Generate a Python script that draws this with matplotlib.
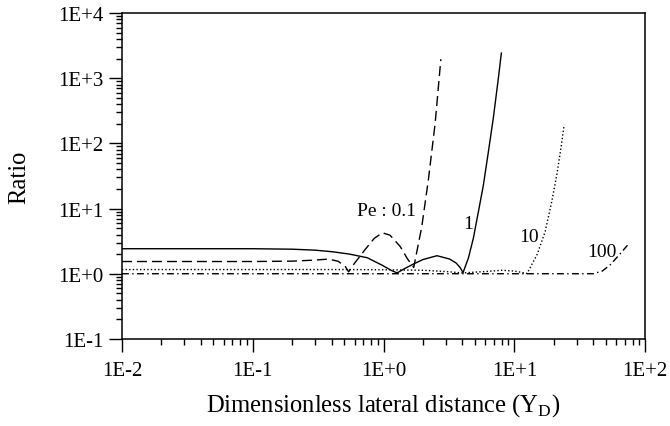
import numpy as np
import matplotlib
matplotlib.use("Agg")
import matplotlib.pyplot as plt
from matplotlib.ticker import LogLocator, FuncFormatter, NullFormatter

plt.rcParams['font.family'] = ['Liberation Serif', 'DejaVu Serif']
plt.rcParams['mathtext.fontset'] = 'custom'
plt.rcParams['mathtext.rm'] = 'Liberation Serif'
plt.rcParams['lines.scale_dashes'] = False

# Pe = 0.1 (dashed)
x_pe01 = [0.01, 0.1, 0.2, 0.3, 0.38, 0.45, 0.51, 0.54, 0.6, 0.72, 0.85, 0.98,
          1.12, 1.34, 1.52, 1.7, 1.82, 1.96, 2.2, 2.48, 2.74]
y_pe01 = [1.54, 1.54, 1.56, 1.62, 1.68, 1.55, 1.29, 1.07, 1.45, 2.33, 3.5, 4.25,
          3.9, 2.62, 1.7, 1.25, 2.5, 5.3, 27.7, 205, 1960]

# Pe = 1 (solid)
x_pe1 = [0.01, 0.1, 0.2, 0.3, 0.41, 0.55, 0.75, 0.99, 1.15, 1.27, 1.45, 1.68,
         2.0, 2.56, 3.2, 3.6, 3.85, 4.05, 4.45, 4.86, 5.31, 5.8, 6.33,
         6.9, 7.54, 7.95]
y_pe1 = [2.42, 2.42, 2.38, 2.3, 2.17, 2.0, 1.76, 1.33, 1.12, 1.03, 1.2, 1.4,
         1.65, 1.89, 1.68, 1.45, 1.24, 1.04, 1.74, 3.53, 9.0, 23.2, 75,
         244, 1000, 2430]

# Pe = 10 (dotted)
x_pe10 = [0.01, 0.5, 1.0, 2.0, 3.0, 4.0, 6.0, 8.0, 10.0, 12.5, 14.9, 17.2,
          19.3, 21.1, 22.7, 24.0]
y_pe10 = [1.16, 1.16, 1.15, 1.13, 1.08, 1.03, 1.08, 1.13, 1.1, 1.01, 1.96,
          4.46, 12.8, 33, 85, 193]

# Pe = 100 (dash-dot)
x_pe100 = [0.01, 1.0, 10.0, 40.0, 47.0, 54.0, 64.0, 74.5]
y_pe100 = [1.0, 1.0, 1.0, 1.0, 1.1, 1.37, 2.0, 2.85]

fig = plt.figure(figsize=(6.7, 4.27), dpi=100)
ax = fig.add_axes([0.182, 0.204, 0.781, 0.763])

lw = 1.0
ax.plot(x_pe01, y_pe01, color='black', lw=lw, dashes=(7.2, 3.6))
ax.plot(x_pe1, y_pe1, color='black', lw=lw)
ax.plot(x_pe10, y_pe10, color='black', lw=lw, dashes=(1.0, 1.6))
ax.plot(x_pe100, y_pe100, color='black', lw=lw, dashes=(5.0, 2.4, 1.0, 2.4))

ax.set_xscale('log')
ax.set_yscale('log')
ax.set_xlim(1e-2, 1e2)
ax.set_ylim(1e-1, 1e4)

fmt = FuncFormatter(lambda v, p: "1E%+d" % int(round(np.log10(v))))
ax.xaxis.set_major_locator(LogLocator(base=10, numticks=10))
ax.yaxis.set_major_locator(LogLocator(base=10, numticks=10))
ax.xaxis.set_major_formatter(fmt)
ax.yaxis.set_major_formatter(fmt)
ax.xaxis.set_minor_locator(LogLocator(base=10, subs=np.arange(2, 10), numticks=20))
ax.yaxis.set_minor_locator(LogLocator(base=10, subs=np.arange(2, 10), numticks=20))
ax.xaxis.set_minor_formatter(NullFormatter())
ax.yaxis.set_minor_formatter(NullFormatter())

ax.tick_params(which='both', direction='out', top=False, right=False,
               width=1.0, labelsize=15, colors='black')
ax.tick_params(which='major', length=9.5)
ax.tick_params(which='minor', length=4)
ax.tick_params(axis='x', which='major', pad=6.5)
ax.tick_params(axis='y', which='major', pad=4)
for s in ax.spines.values():
    s.set_linewidth(1.1)

ax.set_xlabel(r'Dimensionless lateral distance (Y$_\mathrm{D}$)', fontsize=17.7, labelpad=8)
ax.set_ylabel('Ratio', fontsize=17.7, labelpad=20)

ax.text(1.78, 9.5, 'Pe : 0.1', fontsize=14, ha='right', va='center')
ax.text(4.45, 6.0, '1', fontsize=14, ha='center', va='center')
ax.text(13.0, 3.7, '10', fontsize=14, ha='center', va='center')
ax.text(46.9, 2.17, '100', fontsize=14, ha='center', va='center')

fig.savefig('out.png', dpi=100)
